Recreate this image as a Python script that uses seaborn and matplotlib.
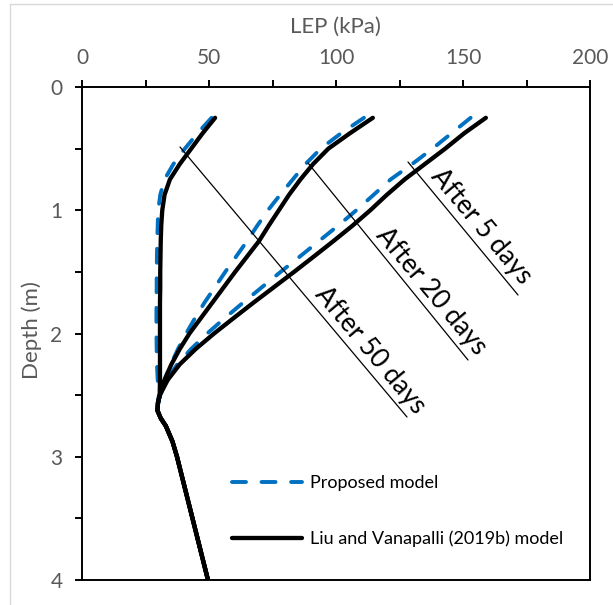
import matplotlib
matplotlib.use("Agg")
import matplotlib.pyplot as plt
from matplotlib.lines import Line2D
from matplotlib.patches import Rectangle
from matplotlib.ticker import MultipleLocator
import seaborn as sns
import pandas as pd

# ---------------- data ----------------
depth = [0.25, 0.375, 0.5, 0.625, 0.75, 0.875, 1.0, 1.125, 1.25, 1.375, 1.5,
         1.625, 1.75, 1.875, 2.0, 2.125, 2.25, 2.375, 2.5, 2.5625, 2.625,
         2.6875, 2.75, 2.875, 3.0, 4.0]

# Liu and Vanapalli (2019b) model (black, solid)
lv_5days = [159.0, 150.5, 143.0, 135.0, 127.0, 120.0, 113.5, 106.5, 99.0, 91.3, 83.5,
            75.5, 67.5, 59.7, 52.0, 44.8, 38.5, 33.8, 30.6, 29.9, 29.7,
            31.0, 33.0, 35.6, 37.4, 49.6]
lv_20days = [114.5, 105.5, 97.0, 91.0, 86.0, 81.5, 77.5, 73.5, 69.7, 65.0, 60.3,
             55.8, 51.3, 46.8, 42.3, 38.5, 35.2, 32.5, 30.6, 29.9, 29.7,
             31.0, 33.0, 35.6, 37.4, 49.6]
lv_50days = [52.4, 47.5, 43.0, 38.5, 34.6, 32.5, 31.6, 31.2, 31.0, 30.9, 30.8,
             30.8, 30.7, 30.7, 30.7, 30.7, 30.7, 30.7, 30.6, 29.9, 29.7,
             31.0, 33.0, 35.6, 37.4, 49.6]

# Proposed model (blue, dashed)
pm_5days = [153.0, 145.5, 138.0, 130.0, 121.5, 114.8, 108.0, 100.8, 93.3, 85.8, 78.2,
            70.8, 63.4, 56.2, 49.3, 43.0, 37.5, 33.5, 30.8, 30.0, 29.8,
            31.0, 33.0, 35.6, 37.4, 49.6]
pm_20days = [111.0, 102.0, 94.0, 88.0, 83.0, 78.0, 73.2, 69.0, 65.0, 60.7, 56.4,
             52.3, 48.2, 44.5, 41.0, 37.8, 35.0, 32.6, 30.8, 30.0, 29.8,
             31.0, 33.0, 35.6, 37.4, 49.6]
pm_50days = [51.0, 45.5, 40.5, 36.0, 32.5, 30.8, 30.0, 29.8, 29.6, 29.5, 29.4,
             29.4, 29.3, 29.3, 29.3, 29.4, 29.5, 29.8, 30.2, 30.0, 29.8,
             31.0, 33.0, 35.6, 37.4, 49.6]

series_labels = ["Proposed model", "Liu and Vanapalli (2019b) model"]
annot_labels = ["After 5 days", "After 20 days", "After 50 days"]
x_label = "LEP (kPa)"
y_label = "Depth (m)"

# ---------------- styling ----------------
sns.set_theme(style="white")
plt.rcParams["font.family"] = ["Lato", "DejaVu Sans"]

W, H = 613, 605
fig = plt.figure(figsize=(W / 100, H / 100), dpi=100)
L, R, T, B = 82, 590, 87, 580
ax = fig.add_axes([L / W, 1 - B / H, (R - L) / W, (B - T) / H])

BLUE = "#0070C0"
BLACK = "#000000"
GREY = "#595959"
DASH = (0, (3.6, 4.0))

def df_of(x, y):
    return pd.DataFrame({"LEP": x, "Depth": y})

for vals in (pm_5days, pm_20days, pm_50days):
    sns.lineplot(data=df_of(vals, depth), x="LEP", y="Depth", sort=False,
                 estimator=None, ax=ax, color=BLUE, lw=2.8,
                 linestyle=DASH, dash_capstyle="round", zorder=3)
for vals in (lv_5days, lv_20days, lv_50days):
    sns.lineplot(data=df_of(vals, depth), x="LEP", y="Depth", sort=False,
                 estimator=None, ax=ax, color=BLACK, lw=3.1,
                 solid_capstyle="round", solid_joinstyle="round", zorder=4)

ax.set_xlim(0, 200)
ax.set_ylim(4, 0)

# axes on top / left
ax.xaxis.tick_top()
ax.xaxis.set_label_position("top")
ax.xaxis.set_major_locator(MultipleLocator(50))
ax.xaxis.set_minor_locator(MultipleLocator(25))
ax.yaxis.set_major_locator(MultipleLocator(1))
ax.yaxis.set_minor_locator(MultipleLocator(0.5))
ax.tick_params(axis="both", which="both", direction="out", color="black",
               width=1.4, length=5)
ax.tick_params(axis="x", which="both", top=True, bottom=False)
ax.tick_params(axis="y", which="both", left=True, right=False)
ax.tick_params(axis="both", which="major", labelsize=15, labelcolor=GREY, pad=9)
for s in ax.spines.values():
    s.set_visible(True)
    s.set_color("black")
    s.set_linewidth(1.4)

ax.set_xlabel(x_label, fontsize=16, color=GREY)
ax.set_ylabel(y_label, fontsize=16, color=GREY)
ax.xaxis.label.set_va("center")
ax.yaxis.label.set_va("center")
ax.xaxis.set_label_coords((335 - L) / (R - L), 1 + (T - 27) / (B - T))
ax.yaxis.set_label_coords((32 - L) / (R - L), 1 - (330 - T) / (B - T))

# ---------------- annotations (pixel positions -> data) ----------------
def px2data(px, py):
    return (px - L) / (R - L) * 200, (py - T) / (B - T) * 4

annot_lines = [((408, 162), (518, 295)),
               ((308, 163), (468, 360)),
               ((180, 147), (407, 417))]
annot_text_pos = [(481, 226), (431, 291), (370, 350)]
for (p0, p1), tpos, lab in zip(annot_lines, annot_text_pos, annot_labels):
    x0, y0 = px2data(*p0)
    x1, y1 = px2data(*p1)
    ax.plot([x0, x1], [y0, y1], color="black", lw=0.9, zorder=5)
    tx, ty = px2data(*tpos)
    ax.text(tx, ty, lab, rotation=-50, rotation_mode="anchor",
            ha="center", va="center", fontsize=19, color="black", zorder=6)

# ---------------- legend ----------------
handles = [Line2D([], [], color=BLUE, lw=2.8, linestyle=DASH,
                  dash_capstyle="round"),
           Line2D([], [], color=BLACK, lw=3.1, solid_capstyle="round")]
leg = ax.legend(handles, series_labels, loc="upper left",
                bbox_to_anchor=((232 - L) / (R - L), 1 - (475 - T) / (B - T)),
                frameon=False, fontsize=13, handlelength=3.9,
                handletextpad=0.4, labelspacing=2.2, borderpad=0,
                borderaxespad=0)
for t in leg.get_texts():
    t.set_color("black")

# light grey chart-area border (Excel style)
fig.patches.append(Rectangle((10 / W, -0.1), 1.2, 1 - 4 / H + 0.1,
                             transform=fig.transFigure, fill=False,
                             edgecolor="#d9d9d9", lw=1.0, zorder=0))

fig.savefig("out.png", dpi=100)
